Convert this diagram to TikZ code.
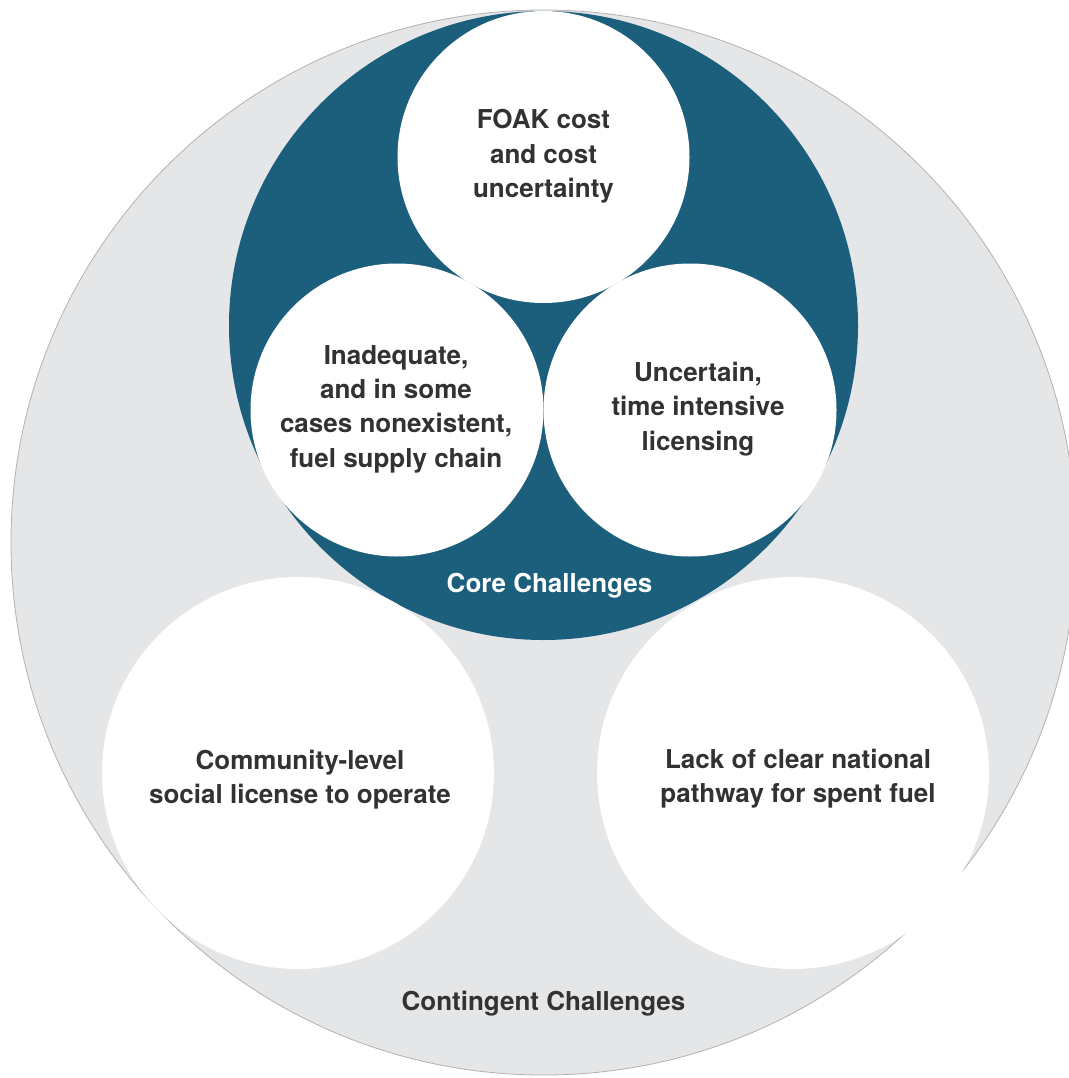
\documentclass[tikz,border=0pt]{standalone}
\usepackage{fontspec}
\setmainfont{TeX Gyre Heros}
\definecolor{coreblue}{RGB}{28,95,125}
\definecolor{ringgray}{RGB}{229,230,232}
\definecolor{ringline}{RGB}{178,178,178}
\definecolor{labeltext}{RGB}{50,50,50}

\begin{document}
\begin{tikzpicture}[x=1pt, y=-1pt,
    blob/.style={circle, fill=white, inner sep=0pt, minimum size=#1},
    challenge/.style={align=center, text=labeltext, font=\fontsize{26}{34.3}\selectfont\bfseries}]
      \useasboundingbox (0,0) rectangle (1068,1078);

      \draw[fill=ringgray, draw=ringline, line width=0.8pt] (543.5,542.5) circle (532.5pt);
      \fill[coreblue] (543.5,325.5) circle (314.5pt);

      \draw (543.5,157) node[blob=292pt] (foak) {};
      \draw (397,410) node[blob=293pt] (supply) {};
      \draw (690,410) node[blob=293pt] (licensing) {};
      \draw (298,773) node[blob=392pt] (community) {};
      \draw (793,773) node[blob=392pt] (spent) {};

      \draw (foak.center) node[challenge, yshift=0.5] (foakText)
        {FOAK cost\\and cost\\uncertainty};
      \draw (supply.center) node[challenge, xshift=-1, yshift=1] (supplyText)
        {Inadequate,\\and in some\\cases nonexistent,\\fuel supply chain};
      \draw (licensing.center) node[challenge, xshift=8, yshift=1] (licensingText)
        {Uncertain,\\time intensive\\licensing};
      \draw (community.center) node[challenge, xshift=2, yshift=-6.5] (communityText)
        {Community-level\\social license to operate};
      \draw (spent.center) node[challenge, xshift=5, yshift=-6] (spentText)
        {Lack of clear national\\pathway for spent fuel};

      \draw (549.5,585.5) node[challenge, text=white] (core) {Core Challenges};
      \draw (543.5,1004) node[challenge] (contingent) {Contingent Challenges};

    \end{tikzpicture}
\end{document}
